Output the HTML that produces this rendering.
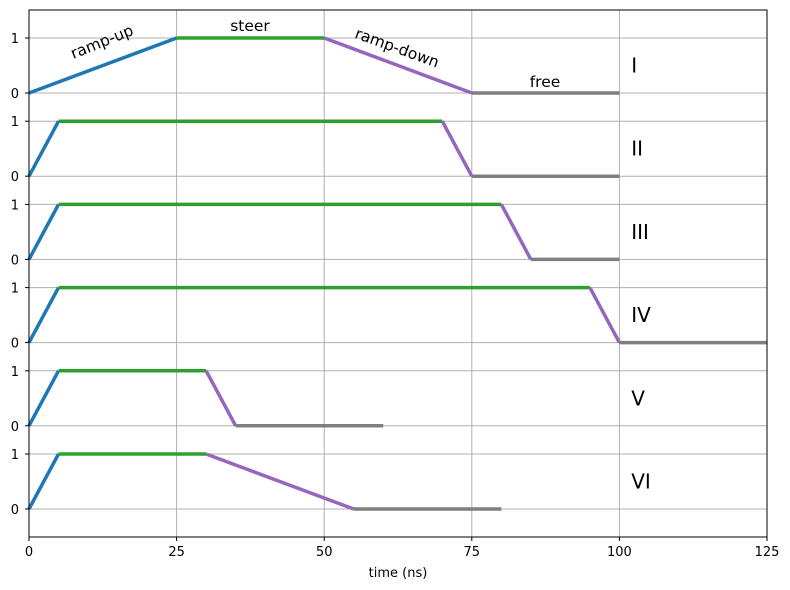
<!DOCTYPE html>
<html><head><meta charset="utf-8"><style>
body{margin:0;background:#fff}
svg{display:block;font-family:"DejaVu Sans","Liberation Sans",sans-serif}
</style></head><body>
<svg id="chart" width="790" height="590" viewBox="0 0 790 590"></svg>
<script>
const xTicks=[0,25,50,75,100,125];
const panelNames=["I","II","III","IV","V","VI"];
const rampUp=[[0,25],[0,5],[0,5],[0,5],[0,5],[0,5]];
const steer=[[25,50],[5,70],[5,80],[5,95],[5,30],[5,30]];
const rampDown=[[50,75],[70,75],[80,85],[95,100],[30,35],[30,55]];
const free=[[75,100],[75,100],[85,100],[100,125],[35,60],[55,80]];

const NS="http://www.w3.org/2000/svg";
const svg=document.getElementById('chart');
const L=29,R=767,T=10,B=537;
const X=v=>L+(v-0)/(125-0)*(R-L);
const base=k=>93+k*83.2;
const Y=(k,v)=>base(k)-v*55;
function mk(t,a,p){const e=document.createElementNS(NS,t);for(const k in a)e.setAttribute(k,a[k]);(p||svg).appendChild(e);return e;}

xTicks.slice(1,-1).forEach(v=>{
  const g=mk('line',{x1:X(v),x2:X(v),y1:T,y2:B,stroke:'#b0b0b0','stroke-width':1});
  
  
});
panelNames.forEach((n,k)=>{
  [0,1].forEach(v=>{
    const g=mk('line',{x1:L,x2:R,y1:Y(k,v),y2:Y(k,v),stroke:'#b0b0b0','stroke-width':1});
    
    
    const tk=mk('line',{x1:L-4,x2:L,y1:Y(k,v),y2:Y(k,v),stroke:'#000','stroke-width':1});
    
    
    const tl=mk('text',{x:L-10,y:Y(k,v)+5,'text-anchor':'end','font-size':13});
    tl.textContent=v;
    
    
  });
});
const segs=[[rampUp,'#1f77b4',0,1,'ramp-up'],[steer,'#2ca02c',1,1,'steer'],[rampDown,'#9467bd',1,0,'ramp-down'],[free,'#7f7f7f',0,0,'free']];
panelNames.forEach((n,k)=>{
  segs.forEach(([arr,c,y0,y1,nm])=>{
    const s=arr[k];
    const ln=mk('line',{x1:X(s[0]),x2:X(s[1]),y1:Y(k,y0),y2:Y(k,y1),stroke:c,'stroke-width':3.5});
    
    
  });
  const lb=mk('text',{x:X(102),y:Y(k,0.5)+7,'font-size':20});
  lb.textContent=n;
  
  
});
const ann=[["ramp-up",102,47,-22,'middle'],["steer",250,31,0,'middle'],["ramp-down",397,53,20,'middle'],["free",545,87,0,'middle']];
ann.forEach(a=>{
  const t=mk('text',{x:a[1],y:a[2],'font-size':15.5,'text-anchor':a[4],transform:`rotate(${a[3]} ${a[1]} ${a[2]-5})`});
  t.textContent=a[0];
  
  
});
const fr=mk('rect',{x:L,y:T,width:R-L,height:B-T,fill:'none',stroke:'#000','stroke-width':1});


xTicks.forEach(v=>{
  const tk=mk('line',{x1:X(v),x2:X(v),y1:B,y2:B+4,stroke:'#000'});
  
  
  const t=mk('text',{x:X(v),y:B+19,'text-anchor':'middle','font-size':13});
  t.textContent=v;
  
  
});
const xt=mk('text',{x:(L+R)/2,y:577,'text-anchor':'middle','font-size':13});
xt.textContent='time (ns)';


</script>
</body></html>
